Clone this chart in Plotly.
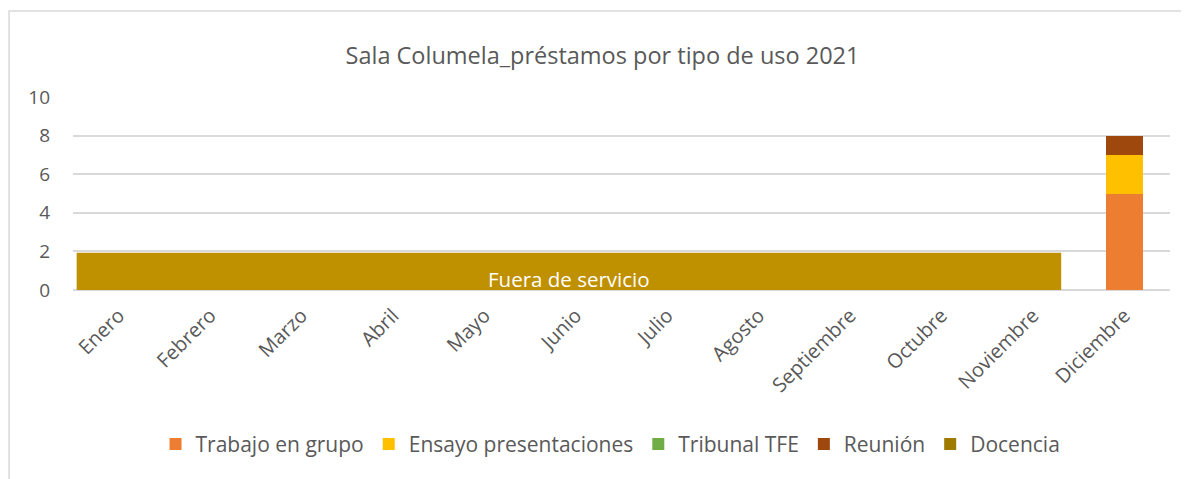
import plotly.graph_objects as go

meses = ["Enero", "Febrero", "Marzo", "Abril", "Mayo", "Junio", "Julio",
         "Agosto", "Septiembre", "Octubre", "Noviembre", "Diciembre"]

trabajo_grupo = [0, 0, 0, 0, 0, 0, 0, 0, 0, 0, 0, 5]
ensayo_present = [0, 0, 0, 0, 0, 0, 0, 0, 0, 0, 0, 2]
tribunal_tfe = [0, 0, 0, 0, 0, 0, 0, 0, 0, 0, 0, 0]
reunion = [0, 0, 0, 0, 0, 0, 0, 0, 0, 0, 0, 1]
docencia = [0, 0, 0, 0, 0, 0, 0, 0, 0, 0, 0, 0]

# banda "Fuera de servicio" (Enero..Noviembre)
fuera_texto = "Fuera de servicio"
fuera_altura = 1.93

series = [
    ("Trabajo en grupo", trabajo_grupo, "#ED7D31"),
    ("Ensayo presentaciones", ensayo_present, "#FFC000"),
    ("Tribunal TFE", tribunal_tfe, "#70AD47"),
    ("Reunión", reunion, "#9E480E"),
    ("Docencia", docencia, "#9E7A00"),
]

FONT = "Open Sans"
GRIS = "#595959"

fig = go.Figure()
for nombre, vals, color in series:
    fig.add_trace(go.Bar(
        x=meses, y=vals, name=nombre,
        marker=dict(color=color, line=dict(width=0)),
    ))

# la página añade 8px de margen al cuerpo: se compensa aquí
fig.update_layout(
    barmode="stack",
    bargap=0.595,
    width=1189, height=479,
    margin=dict(l=65, r=27, t=89, b=197, autoexpand=False),
    plot_bgcolor="white",
    paper_bgcolor="white",
    font=dict(family=FONT, color=GRIS),
    title=dict(text="Sala Columela_préstamos por tipo de uso 2021",
               x=0.5, xanchor="center", y=0.9, yanchor="middle",
               font=dict(size=23.5, color=GRIS)),
    legend=dict(orientation="h", x=0.49, xanchor="center", y=-0.8,
                yanchor="middle", font=dict(size=21, color=GRIS),
                traceorder="normal", itemwidth=30),
    showlegend=True,
)

fig.update_xaxes(tickangle=-45, tickfont=dict(size=20, color=GRIS),
                 showgrid=False, showline=False, ticks="", automargin=False,
                 ticklabelstandoff=9)
fig.update_yaxes(range=[0, 10], dtick=2, tickfont=dict(size=19, color=GRIS),
                 showgrid=True, gridcolor="#D9D9D9", gridwidth=1.5,
                 zeroline=True, zerolinecolor="#D9D9D9", zerolinewidth=1.5,
                 ticks="", ticklabelstandoff=22, automargin=False)

# banda fuera de servicio
i0 = meses.index("Enero") - 0.46
i1 = meses.index("Noviembre") + 0.31
fig.add_shape(type="rect", xref="x", yref="y", x0=i0, x1=i1, y0=0,
              y1=fuera_altura, fillcolor="#BF9000", line=dict(width=0),
              layer="above")
fig.add_annotation(x=(i0 + i1) / 2, y=0.57, xref="x", yref="y",
                   text=fuera_texto, showarrow=False,
                   font=dict(size=20.5, color="white", family=FONT))

# marco del gráfico
fig.add_shape(type="rect", xref="paper", yref="paper",
              x0=-0.0583, x1=1.03, y0=-1.1, y1=1.445,
              line=dict(color="#D9D9D9", width=1.5), fillcolor="rgba(0,0,0,0)")

fig.write_html("out.html")
